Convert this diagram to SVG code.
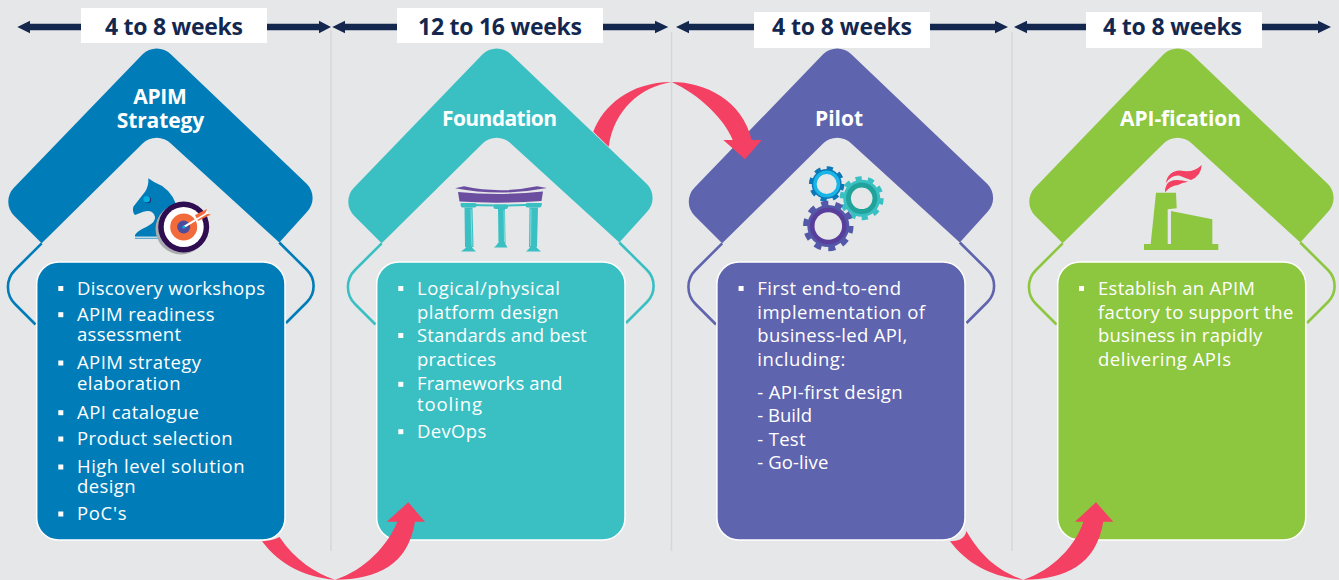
<svg xmlns="http://www.w3.org/2000/svg" width="1339" height="580" viewBox="0 0 1339 580">
<style>
text{font-family:"Open Sans","Noto Sans","Liberation Sans",sans-serif}
.wk{font-size:23px;font-weight:700;fill:#14284F}
.tt{font-size:21px;font-weight:700;fill:#fff}
.b{font-size:18.5px;fill:#fff}
.lab{fill:#fff}
.sep{stroke:#D5D7D9;stroke-width:1.5;fill:none}
.box{stroke:#fff;stroke-width:1.5}
.pink{fill:#F44062}
.navy{fill:#14284F}
</style>
<defs>
<path id="chev" stroke="none" d="M41.7 243.3L14.1 215.8A20 20 0 0 1 14.1 187.6L142.6 54.3A20 20 0 0 1 170.8 54.3L306.9 184A20 20 0 0 1 306.9 212L279.3 242.5L170.8 143.5A20 20 0 0 0 142.6 143.5Z"/>
<path id="hook" fill="none" stroke-width="2.6" d="M41.7 243.3L15 270A24 24 0 0 0 15 304L35.5 324.5M279.3 242.5L307 270A22.7 22.7 0 0 1 307 302L286 323"/>
<rect id="bul" width="5" height="5" fill="#fff"/>
</defs>
<rect width="1339" height="580" fill="#E6E7E9"/>
<g id="separators">
<path class="sep" d="M331 30V551M671.5 32V551M1012 32V551"/>
</g>
<g id="timeline">
<path class="navy" d="M17.3 27L30 20.7V23.7H319V20.7L331 27L319 33.3V30.3H30V33.3Z"/>
<path class="navy" d="M332.3 27L345 20.7V23.7H655V20.7L668.3 27L655 33.3V30.3H345V33.3Z"/>
<path class="navy" d="M676 27L689 20.7V23.7H995V20.7L1008 27L995 33.3V30.3H689V33.3Z"/>
<path class="navy" d="M1014 27L1027 20.7V23.7H1318V20.7L1331 27L1318 33.3V30.3H1027V33.3Z"/>
<rect class="lab" x="81" y="8" width="186" height="35"/>
<rect class="lab" x="397" y="8" width="206" height="35"/>
<rect class="lab" x="754" y="12" width="176" height="36"/>
<rect class="lab" x="1086" y="12" width="176" height="36"/>
<text class="wk" x="105" y="35" textLength="138">4 to 8 weeks</text>
<text class="wk" x="418" y="35" textLength="164">12 to 16 weeks</text>
<text class="wk" x="772" y="35" textLength="140">4 to 8 weeks</text>
<text class="wk" x="1103" y="35" textLength="139">4 to 8 weeks</text>
</g>
<g id="node-strategy">
<use href="#chev" fill="#007DB8"/><use href="#hook" stroke="#007DB8"/>
<rect class="box" x="36.7" y="262" width="248.3" height="278" rx="22" fill="#007DB8"/>
<text class="tt" x="133.3" y="103.5" textLength="53.5">APIM</text>
<text class="tt" x="116.7" y="127.5" textLength="87.5">Strategy</text>
<path fill="#007DB8" d="M148.3 178.3L154 182Q170 188 176 204L176 239H135V235Q137 231 146.7 226.7Q156 222 155 216.7Q153 209 143.3 211.7L135 215Q132 212 133.3 206.7L145 191.7Q149 186 148.3 178.3Z"/>
<rect x="135" y="236.5" width="26" height="2" fill="#BFD9E6"/>
<circle cx="147.6" cy="199.8" r="3.5" fill="#2B2A6E"/><circle cx="146.7" cy="199.2" r="3.3" fill="#00B0E0"/>
<circle cx="181" cy="229" r="25.5" fill="#A9ABAE"/>
<circle cx="183.7" cy="227" r="25.5" fill="#2E0D50"/>
<circle cx="183.7" cy="227" r="20" fill="#fff"/>
<circle cx="183.7" cy="227" r="13.5" fill="#F26C3B"/>
<circle cx="183.7" cy="227" r="6.5" fill="#4B4BA0"/>
<path d="M183.7 227L207 213" stroke="#fff" stroke-width="2"/>
<path d="M195 215L207 209L205 213.5L211 214.5L198 221Z" fill="#F26C3B"/>
<path d="M184 227L208 212.5" stroke="#fff" stroke-width="1.5"/>
<circle cx="183.7" cy="227" r="1.5" fill="#00B0E0"/>
<use href="#bul" x="58.3" y="286"/><text class="b" x="77" y="294.5" textLength="188">Discovery workshops</text>
<use href="#bul" x="58.3" y="312.2"/><text class="b" x="77" y="320.7" textLength="137.5">APIM readiness</text>
<text class="b" x="77" y="341" textLength="104">assessment</text>
<use href="#bul" x="58.3" y="360.5"/><text class="b" x="77" y="369" textLength="124">APIM strategy</text>
<text class="b" x="77" y="390" textLength="103.5">elaboration</text>
<use href="#bul" x="58.3" y="410.2"/><text class="b" x="77" y="418.7" textLength="122">API catalogue</text>
<use href="#bul" x="58.3" y="436.5"/><text class="b" x="77" y="445" textLength="155.5">Product selection</text>
<use href="#bul" x="58.3" y="464.5"/><text class="b" x="77" y="473" textLength="167.5">High level solution</text>
<text class="b" x="77" y="492.7" textLength="58.5">design</text>
<use href="#bul" x="58.3" y="511.5"/><text class="b" x="77" y="520" textLength="49.5">PoC's</text>
</g>
<g id="node-foundation">
<use href="#chev" x="340" fill="#3AC0C3"/><use href="#hook" x="340" stroke="#3AC0C3"/>
<rect class="box" x="376.7" y="262" width="248.3" height="278" rx="22" fill="#3AC0C3"/>
<text class="tt" x="442" y="125.7" textLength="115">Foundation</text>
<path fill="#6B4EA0" d="M455 188.3L464 186.3Q500 194 537 186.3L547 188Q500 197 455 188.3Z"/>
<path fill="#6B4EA0" d="M458 192Q500 196 543 191.5L541.5 201Q500 204 459.5 201.5Z"/>
<g fill="#3AC0C3">
<path d="M460.7 203Q500 206 541.7 203L541.7 205Q500 208 460.7 205Z"/>
<rect x="460.7" y="203" width="16" height="4.5" rx="2"/><rect x="493.5" y="204.5" width="14.5" height="4.5" rx="2"/><rect x="525.5" y="203" width="16" height="4.5" rx="2"/>
<path d="M464.5 207.5H472.5L473.5 247H465Z"/><path d="M498 209H505L505.5 243H498.5Z"/><path d="M529.5 207.5H538L537 247H529Z"/>
<path d="M461 251.5Q466 248 467 246H471Q473 249 476 251.5Z"/><path d="M494 247.5Q497 245 498 243H505Q506 245 507.5 247.5Z"/><path d="M526 251.5Q529 249 531 246H535Q538 249 541 251.5Z"/>
</g>
<path d="M471 209L472 246M504 210L504.5 242M531 209L530.5 246" stroke="#9ADFE0" stroke-width="0.8" fill="none"/>
<use href="#bul" x="398.3" y="286"/><text class="b" x="417" y="294.7" textLength="143">Logical/physical</text>
<text class="b" x="417" y="318.7" textLength="141.7">platform design</text>
<use href="#bul" x="398.3" y="333"/><text class="b" x="417" y="341.7" textLength="169.7">Standards and best</text>
<text class="b" x="417" y="365.7" textLength="79">practices</text>
<use href="#bul" x="398.3" y="381.8"/><text class="b" x="417" y="390.3" textLength="145.3">Frameworks and</text>
<text class="b" x="417" y="411" textLength="65">tooling</text>
<use href="#bul" x="398.3" y="429.2"/><text class="b" x="417" y="437.7" textLength="69.3">DevOps</text>
</g>
<g id="node-pilot">
<use href="#chev" x="680.5" fill="#5F64AE"/><use href="#hook" x="680.5" stroke="#5F64AE"/>
<rect class="box" x="716.9" y="262" width="248.1" height="278" rx="22" fill="#5F64AE"/>
<text class="tt" x="815" y="126" textLength="48">Pilot</text>
<g fill="none">
<circle cx="826.7" cy="184" r="15" fill="#0B78B8"/><circle cx="826.7" cy="184" r="15.5" stroke="#0B78B8" stroke-width="4.5" pathLength="16" stroke-dasharray="1 1"/><circle cx="826.7" cy="184" r="13.5" fill="#19B5E6"/><circle cx="826.7" cy="184" r="10" fill="#E6E7E9"/>
<circle cx="861.7" cy="198.3" r="18.5" fill="#3AC0C3"/><circle cx="861.7" cy="198.3" r="19.5" stroke="#3AC0C3" stroke-width="5" pathLength="20" stroke-dasharray="1 1"/><circle cx="861.7" cy="198.3" r="15.7" fill="#1FA39B"/><circle cx="861.7" cy="198.3" r="10.8" fill="#E6E7E9"/>
<circle cx="828.3" cy="226" r="21" fill="#5358A8"/><circle cx="828.3" cy="226" r="22.5" stroke="#5358A8" stroke-width="5.5" pathLength="20" stroke-dasharray="1 1"/><circle cx="828.3" cy="226" r="18.3" fill="#5A3E9B"/><circle cx="828.3" cy="226" r="13.8" fill="#E6E7E9"/>
</g>
<use href="#bul" x="738.6" y="286"/><text class="b" x="757.3" y="294.7" textLength="143.7">First end-to-end</text>
<text class="b" x="757.3" y="318.7" textLength="167.7">implementation of</text>
<text class="b" x="757.3" y="341.7" textLength="150">business-led API,</text>
<text class="b" x="757.3" y="365.7" textLength="88">including:</text>
<text class="b" x="757.3" y="398.7" textLength="145.3">- API-first design</text>
<text class="b" x="757.3" y="422.3" textLength="54.7">- Build</text>
<text class="b" x="757.3" y="445.7" textLength="48.3">- Test</text>
<text class="b" x="757.3" y="469.3" textLength="71">- Go-live</text>
</g>
<g id="node-apification">
<use href="#chev" x="1021" fill="#8DC63F"/><use href="#hook" x="1021" stroke="#8DC63F"/>
<rect class="box" x="1057.7" y="262" width="248" height="278" rx="22" fill="#8DC63F"/>
<text class="tt" x="1120" y="126" textLength="121">API-fication</text>
<path fill="#8DC63F" d="M1144 244H1150.7L1156 192.7H1176L1176.7 208.3L1167.7 209.3V244H1171V211L1212.3 219.3V244H1218.3V250H1144Z"/>
<path class="pink" d="M1165.7 183.3Q1168 171 1180 170.5Q1193 173.5 1201.7 165Q1201 176 1191 180Q1185 178 1179 175.5Q1171 175 1165.7 183.3Z"/>
<path class="pink" d="M1165 192.3Q1165 184 1170 181.5Q1176 178.5 1188.3 181.7Q1182 182.5 1178 185Q1170 186 1165 192.3Z"/>
<use href="#bul" x="1079" y="286"/><text class="b" x="1098" y="294.7" textLength="157">Establish an APIM</text>
<text class="b" x="1098" y="318.7" textLength="195.3">factory to support the</text>
<text class="b" x="1098" y="341.7" textLength="164.3">business in rapidly</text>
<text class="b" x="1098" y="365.7" textLength="133">delivering APIs</text>
</g>
<g id="connectors">
<path class="pink" d="M593.3 131.7C603 106 630 82 671.7 82C705 82 742 100 751.7 140L761.7 140L745 159.3L723.3 140L732.7 140C724 118 698 94 671.7 82C640 87 614 110 608.7 146.7Z"/>
<path class="pink" d="M262 541.2C280 565 305 577 335 579.8C378 579 408 565 415 521.7L425 521.7L408.3 502.3L386.7 521.7L397.3 521.7C388 545 365 570 335 579.8C315 573 295 560 279.5 537Q272 540.8 262 541.2Z"/>
<path class="pink" d="M950 541.2C968 565 993 577 1023.3 579.8C1066 579 1096 565 1103.3 521.7L1113.3 521.7L1096 502.3L1075 521.7L1083.3 521.7C1076 545 1053 570 1023.3 579.8C1003 573 983 560 966.3 531Q965 541 950 541.2Z"/>
</g>
</svg>
